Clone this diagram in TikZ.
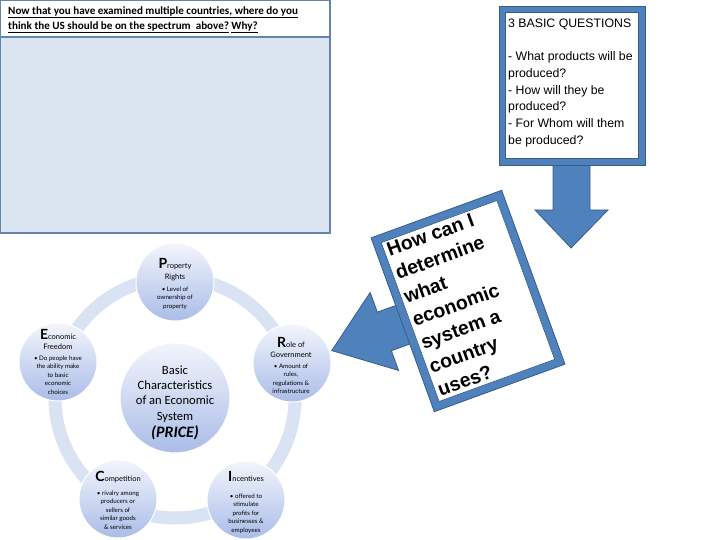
\documentclass[tikz,border=0pt]{standalone}
\usepackage{fontspec}
\setmainfont{Liberation Sans}
\newfontfamily\calibri{Carlito}
\newfontfamily\gill{Lato}
\newfontfamily\arial{Liberation Sans}
\definecolor{frameblue}{HTML}{4F81BD}
\definecolor{edgeblue}{HTML}{385D8A}
\definecolor{slate}{HTML}{6584AA}
\definecolor{panel}{HTML}{DBE5F1}
\definecolor{ringc}{HTML}{DAE3F3}
\definecolor{ctop}{HTML}{F2F5FC}
\definecolor{cbot}{HTML}{AABDE8}
\newcommand{\BL}[1]{{\bfseries\fontsize{14}{14}\selectfont #1}}
\begin{document}
\begin{tikzpicture}[x=1pt,y=-1pt,
  sat/.style={circle, minimum size=78pt, inner sep=0pt, top color=ctop, bottom color=cbot, draw=white, line width=1pt},
  ttl/.style={anchor=base, inner sep=0pt, font=\gill\fontsize{7.5}{9}\selectfont},
  blt/.style={anchor=north, inner sep=0pt, align=center, font=\gill\fontsize{6.2}{8.5}\selectfont},
  arrowshape/.style={draw=edgeblue, fill=frameblue, line width=0.8pt, line join=miter}]
\useasboundingbox (0,0) rectangle (720,540);
\fill[white] (0,0) rectangle (720,540);

% title panel
\draw[slate, line width=2pt, fill=white] (0,0) rectangle (330,37);
\draw[slate, line width=2pt, fill=panel] (0,37) rectangle (330,233);
\node[anchor=north west, inner sep=0pt, align=left, font=\calibri\bfseries\fontsize{11.1}{15}\selectfont] (title) at (8,6)
  {\underline{Now that you have examined multiple countries, where do you}\\
   \underline{think the US should be on the spectrum\ \ above?}\ \underline{Why?}};

% down arrow and question box
\draw[arrowshape] (553,150) -- (590,150) -- (590,210) -- (608,210) -- (571,248) -- (535,210) -- (553,210) -- cycle;
\draw[arrowshape] (499,6) rectangle (645,165);
\draw[draw=edgeblue, fill=white, line width=0.6pt] (505,12) rectangle (638,158);
\node[anchor=north west, inner sep=0pt, align=left, font=\arial\fontsize{12.3}{16.7}\selectfont] (questions) at (508,18.7)
  {3 BASIC QUESTIONS\\ \mbox{}\\- What products will be\\produced?\\- How will they be\\produced?\\- For Whom will them\\be produced?};

% rotated box with left arrow
\begin{scope}[shift={(468,301)}, rotate=20]
  \draw[arrowshape] (-145,0) -- (-89,-41.5) -- (-89,-20.5) -- (-60,-20.5) -- (-60,20.5) -- (-89,20.5) -- (-89,41.5) -- cycle;
  \draw[arrowshape] (-69.5,-92.5) rectangle (69.5,92.5);
  \draw[draw=edgeblue, fill=white, line width=0.6pt] (-61.5,-84.5) rectangle (61.5,84.5);
  \node[anchor=north west, inner sep=0pt, align=left, transform shape, font=\arial\bfseries\fontsize{19.5}{24.8}\selectfont] (how) at (-58.5,-82)
    {How can I\\determine\\what\\economic\\system a\\country\\uses?};
\end{scope}

% cycle
\draw[ringc, line width=13pt] (175,398) circle[radius=120];
\node[sat, minimum size=110pt] (core) at (175,398) {};
\node[anchor=north, inner sep=0pt, align=center, font=\calibri\fontsize{12.6}{15.3}\selectfont] (coretext) at (175,365.5)
  {Basic\\Characteristics\\of an Economic\\System};
\node[anchor=base, inner sep=0pt, font=\calibri\bfseries\itshape\fontsize{16}{16}\selectfont] (price) at (175,437) {(PRICE)};

\node[sat] (prop) at (175,282) {};
\node[ttl] (propt) at (175,268) {\BL{P}roperty};
\node[ttl] (propr) at (175,279) {Rights};
\node[blt] (propb) at (175,286.5) {• Level of\\ownership of\\property};

\node[sat] (econ) at (58,362) {};
\node[ttl] (econt) at (58,339) {\BL{E}conomic};
\node[ttl] (econf) at (58,349) {Freedom};
\node[blt] (econb) at (58,355.5) {• Do people have\\the ability make\\to basic\\economic\\choices};

\node[sat] (role) at (292,363) {};
\node[ttl] (rolet) at (291,347) {\BL{R}ole of};
\node[ttl] (roleg) at (291,357) {Government};
\node[blt] (roleb) at (291,363.5) {• Amount of\\rules,\\regulations \&\\infrastructure};

\node[sat] (comp) at (118,499) {};
\node[ttl] (compt) at (118,481) {\BL{C}ompetition};
\node[blt] (compb) at (118,490.5) {• rivalry among\\producers or\\sellers of\\similar goods\\\& services};

\node[sat] (inc) at (246,500) {};
\node[ttl] (inct) at (246,481) {\BL{I}ncentives};
\node[blt] (incb) at (246,493.5) {• offered to\\stimulate\\profits for\\businesses \&\\employees};
\end{tikzpicture}
\end{document}
